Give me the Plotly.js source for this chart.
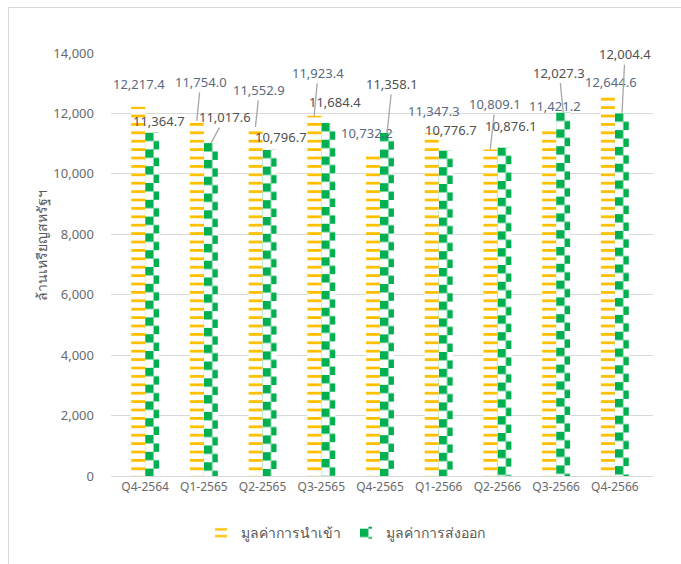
<!DOCTYPE html>
<html>
<head>
<meta charset="utf-8">
<script src="https://cdn.plot.ly/plotly-3.0.1.min.js"></script>
<style>
  html, body { margin: 0; padding: 0; background: #ffffff; }
  #wrap { position: relative; width: 681px; height: 564px; overflow: hidden; }
  #chart { position: absolute; left: 0; top: 0; width: 681px; height: 564px; }
  #frame { position: absolute; left: 8px; top: 7px; width: 700px; height: 600px;
           border-left: 1.5px solid #d9d9d9; border-top: 1.5px solid #d9d9d9; pointer-events: none; }
</style>
</head>
<body>
<div id="wrap">
  <div id="chart"></div>
  <div id="frame"></div>
</div>
<script>
// ---- data ----
const categories = ["Q4-2564", "Q1-2565", "Q2-2565", "Q3-2565", "Q4-2565", "Q1-2566", "Q2-2566", "Q3-2566", "Q4-2566"];
const importValues = [12217.4, 11754.0, 11552.9, 11923.4, 10732.2, 11347.3, 10809.1, 11421.2, 12644.6];
const exportValues = [11364.7, 11017.6, 10796.7, 11684.4, 11358.1, 10776.7, 10876.1, 12027.3, 12004.4];
const seriesNames = ["มูลค่าการนำเข้า", "มูลค่าการส่งออก"];
const yTitle = "ล้านเหรียญสหรัฐฯ";

// ---- label placement (pixel offsets of label centre from the bar top, and leader-line flag) ----
const importLabelDx = [1, 4, 4, 4, -6, 2, 5, 6, 3];
const importLabelDy = [-23, -39, -37, -43, -19, -22, -45, -25, -12];
const importLabelLine = [false, true, true, true, false, false, true, false, false];
const exportLabelDx = [7, 14, 11, 7, 5, 5, 6, -4, 3];
const exportLabelDy = [-12, -26, -13, -21, -49, -20, -21, -40, -59];
const exportLabelLine = [false, true, false, false, true, false, false, true, true];

const YELLOW = "#FFC000";
const GREEN = "#00B050";
const FONT = "Noto Sans, DejaVu Sans, sans-serif";
const BAR_OFFSET = 7.15;

function fmt(v) {
  return v.toLocaleString("en-US", { minimumFractionDigits: 1, maximumFractionDigits: 1 });
}

function makeLabels(values, dxs, dys, lines, shift, color) {
  return values.map((v, i) => {
    const base = {
      x: categories[i], y: v, xref: "x", yref: "y",
      text: fmt(v),
      font: { family: FONT, size: 13, color: color }
    };
    if (lines[i]) {
      return Object.assign(base, {
        showarrow: true, arrowhead: 0, arrowwidth: 1.3, arrowcolor: "#a6a6a6",
        ax: dxs[i], ay: dys[i], standoff: 0, xshift: shift
      });
    }
    return Object.assign(base, {
      showarrow: false, xshift: shift + dxs[i], yshift: -dys[i]
    });
  });
}

const traces = [
  {
    type: "bar", name: seriesNames[0], x: categories, y: importValues,
    marker: { color: "#ffffff", line: { width: 0 },
      pattern: { shape: "-", fgcolor: YELLOW, bgcolor: "#ffffff", size: 8.4, solidity: 0.34, fillmode: "replace" } },
    hoverinfo: "x+y"
  },
  {
    type: "bar", name: seriesNames[1], x: categories, y: exportValues,
    marker: { color: GREEN, line: { width: 0 } },
    hoverinfo: "x+y"
  }
];

const annotations = []
  .concat(makeLabels(importValues, importLabelDx, importLabelDy, importLabelLine, -BAR_OFFSET, "#5a6a80"))
  .concat(makeLabels(exportValues, exportLabelDx, exportLabelDy, exportLabelLine, BAR_OFFSET, "#505050"));

annotations.push({
  xref: "paper", yref: "paper", x: -0.128, y: 0.545, xanchor: "center", yanchor: "middle",
  text: yTitle, textangle: -90, showarrow: false,
  font: { family: FONT, size: 14, color: "#595959" }
});

const layout = {
  width: 681, height: 564,
  margin: { l: 111, r: 28, t: 53, b: 88 },
  paper_bgcolor: "rgba(0,0,0,0)", plot_bgcolor: "rgba(0,0,0,0)",
  barmode: "group", bargap: 0.525, bargroupgap: 0,
  showlegend: true,
  legend: { orientation: "h", x: 0.166, xanchor: "left", y: -0.135, yanchor: "middle",
            font: { family: FONT, size: 14, color: "#595959" }, traceorder: "normal" },
  xaxis: {
    type: "category", showgrid: false, showline: true, linecolor: "#d9d9d9", linewidth: 1,
    ticks: "", tickfont: { family: FONT, size: 12, color: "#6a6a6a" }
  },
  yaxis: {
    range: [0, 14000], dtick: 2000, tickformat: ",d", showgrid: true, gridcolor: "#d9d9d9", gridwidth: 1,
    zeroline: false, showline: false, ticks: "", ticklabelstandoff: 16,
    tickfont: { family: FONT, size: 13, color: "#6a6a6a" }
  },
  annotations: annotations
};

const SVGNS = "http://www.w3.org/2000/svg";
function applyChecker(gd) {
  const svg = gd.querySelector("svg.main-svg");
  if (!svg) return;
  let defs = svg.querySelector("defs");
  if (!defs) { defs = document.createElementNS(SVGNS, "defs"); svg.insertBefore(defs, svg.firstChild); }
  const cell = 8.4;
  const make = (id, ox, oy) => {
    let old = defs.querySelector("#" + id);
    if (old) old.remove();
    const p = document.createElementNS(SVGNS, "pattern");
    p.setAttribute("id", id);
    p.setAttribute("patternUnits", "userSpaceOnUse");
    p.setAttribute("x", ox); p.setAttribute("y", oy);
    p.setAttribute("width", 2 * cell); p.setAttribute("height", 2 * cell);
    const bg = document.createElementNS(SVGNS, "rect");
    bg.setAttribute("width", 2 * cell); bg.setAttribute("height", 2 * cell); bg.setAttribute("fill", "#ffffff");
    p.appendChild(bg);
    [[0, 0], [cell, cell]].forEach(([cx, cy]) => {
      const r = document.createElementNS(SVGNS, "rect");
      r.setAttribute("x", cx); r.setAttribute("y", cy);
      r.setAttribute("width", cell); r.setAttribute("height", cell); r.setAttribute("fill", GREEN);
      p.appendChild(r);
    });
    defs.appendChild(p);
  };
  const barTraces = gd.querySelectorAll(".barlayer .trace.bars");
  if (barTraces.length > 1) {
    barTraces[1].querySelectorAll(".point path").forEach((path, i) => {
      const b = path.getBBox();
      const id = "chk" + i;
      make(id, b.x, b.y);
      path.style.fill = "url(#" + id + ")";
    });
  }
  const legTraces = gd.querySelectorAll(".legend .traces");
  if (legTraces.length > 1) {
    legTraces[1].querySelectorAll(".legendpoints path").forEach((path, i) => {
      const b = path.getBBox();
      const id = "chkleg" + i;
      make(id, b.x, b.y + 2);
      path.style.fill = "url(#" + id + ")";
    });
  }
}

const gd = document.getElementById("chart");
Plotly.newPlot(gd, traces, layout, { displayModeBar: false, staticPlot: true }).then(() => {
  applyChecker(gd);
  gd.on && gd.on("plotly_afterplot", () => applyChecker(gd));
});
</script>
</body>
</html>
